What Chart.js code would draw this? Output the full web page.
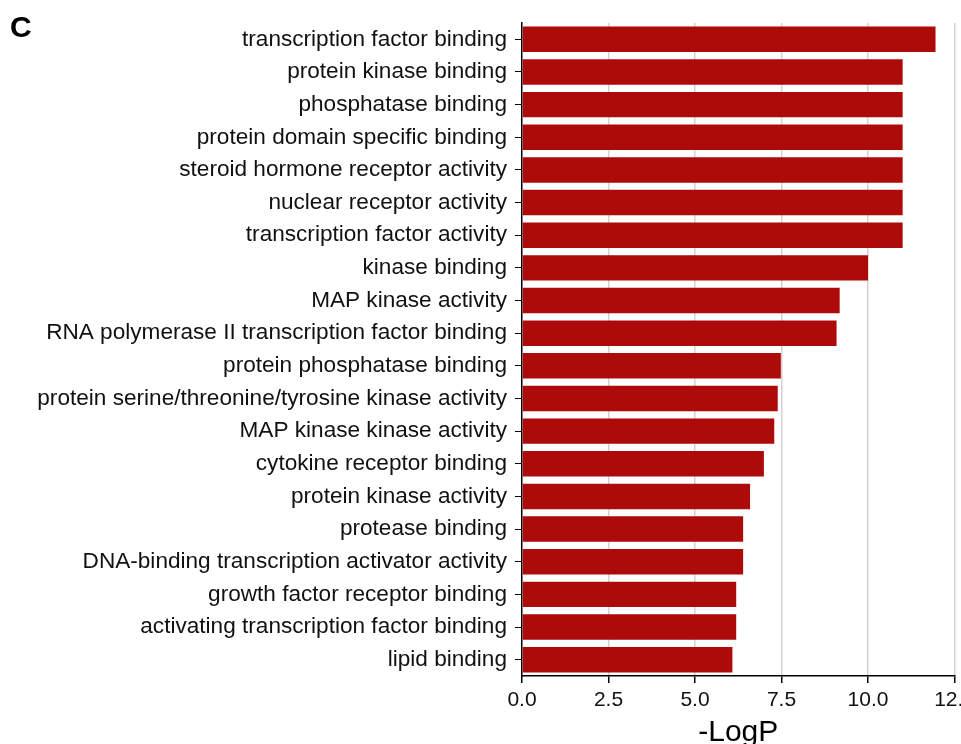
<!DOCTYPE html>
<html>
<head>
<meta charset="utf-8">
<script src="https://cdn.jsdelivr.net/npm/chart.js@4"></script>
<style>
  html, body { margin: 0; padding: 0; background: #fff; overflow: hidden; }
  #wrap { position: absolute; left: 0; top: 0; width: 980px; height: 760px; }
  #panel { position: absolute; left: 10px; top: 12px; font: bold 30px "Liberation Sans", Arial, sans-serif; line-height: 1; color: #000; }
</style>
</head>
<body>
<div id="wrap"><canvas id="grafica"></canvas></div>
<div id="panel">C</div>
<script>
// Categorías (términos GO), de arriba a abajo
const terminos = [
  "transcription factor binding",
  "protein kinase binding",
  "phosphatase binding",
  "protein domain specific binding",
  "steroid hormone receptor activity",
  "nuclear receptor activity",
  "transcription factor activity",
  "kinase binding",
  "MAP kinase activity",
  "RNA polymerase II transcription factor binding",
  "protein phosphatase binding",
  "protein serine/threonine/tyrosine kinase activity",
  "MAP kinase kinase activity",
  "cytokine receptor binding",
  "protein kinase activity",
  "protease binding",
  "DNA-binding transcription activator activity",
  "growth factor receptor binding",
  "activating transcription factor binding",
  "lipid binding"
];

// Valores -LogP
const logP = [11.95, 11.0, 11.0, 11.0, 11.0, 11.0, 11.0, 10.0, 9.18, 9.09,
              7.48, 7.39, 7.29, 6.99, 6.59, 6.39, 6.39, 6.19, 6.19, 6.08];

// Marcas del eje x
const marcasX = [0, 2.5, 5, 7.5, 10, 12.5];

const fuente = '"Liberation Sans", Arial, sans-serif';

new Chart(document.getElementById("grafica"), {
  type: 'bar',
  data: {
    labels: terminos,
    datasets: [{
      data: logP,
      backgroundColor: '#ad0a0a',
      barPercentage: 0.78,
      categoryPercentage: 1.0
    }]
  },
  options: {
    indexAxis: 'y',
    responsive: true,
    maintainAspectRatio: false,
    animation: false,
    layout: { padding: { top: 23, left: 0, right: 0, bottom: 0 } },
    plugins: { legend: { display: false }, tooltip: { enabled: false } },
    scales: {
      x: {
        min: 0,
        max: 12.5,
        z: 1, // rejilla por encima de las barras
        afterBuildTicks: (s) => { s.ticks = marcasX.map(v => ({ value: v })); },
        afterFit: (s) => { s.height = 84; },
        grid: {
          color: (c) => c.tick && c.tick.value === 0 ? 'rgba(0,0,0,0)' : '#d2d2d2',
          lineWidth: 1.5,
          tickColor: '#000',
          tickLength: 7
        },
        border: { color: '#000', width: 1.5 },
        ticks: {
          color: '#111',
          font: { family: fuente, size: 21 },
          padding: 5,
          callback: (v) => Number(v).toFixed(1)
        },
        title: {
          display: true,
          text: '-LogP',
          color: '#000',
          font: { family: fuente, size: 30 },
          padding: { top: 0, bottom: 9 }
        }
      },
      y: {
        afterFit: (s) => { s.width = 522; },
        grid: { drawOnChartArea: false, offset: false, tickColor: '#000', tickLength: 7 },
        border: { color: '#000', width: 1.5 },
        ticks: {
          color: '#111',
          font: { family: fuente, size: 22.6 },
          padding: 8,
          autoSkip: false
        }
      }
    }
  }
});
</script>
</body>
</html>
